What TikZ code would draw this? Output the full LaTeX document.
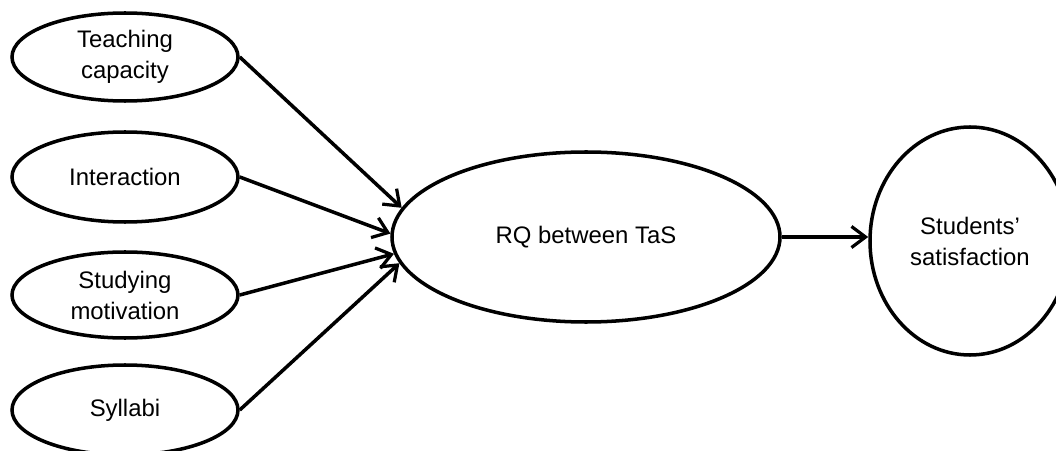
\documentclass[tikz,border=0pt]{standalone}
\usepackage{fontspec}
\setmainfont{Liberation Sans}
\usepackage{tikz}
\usetikzlibrary{shapes.geometric, positioning, arrows.meta}

\begin{document}
\begin{tikzpicture}[
          fac/.style={ellipse, draw, line width=2.5pt, inner sep=0pt,
                      minimum width=5.65cm, minimum height=2.2cm, align=center,
                      font=\fontsize{17}{22}\selectfont},
          arr/.style={-{Straight Barb[length=10pt, width=15pt, line width=2.3pt]},
                      line width=2.5pt}
        ]
        \useasboundingbox (0,0) rectangle (26.4,11.25);

        % Factors
        \node[fac] (teach) at (3.125, 9.825) {Teaching\\capacity};
        \node[fac, minimum height=2.25cm] (inter) at (3.125, 6.825) {Interaction};
        \node[fac, minimum height=2.15cm] (motiv) at (3.125, 3.875) {Studying\\motivation};
        \node[fac, minimum height=2.25cm] (syll)  at (3.125, 1.0)   {Syllabi};

        % Relationship quality
        \node[fac, minimum width=9.7cm, minimum height=4.25cm]
              (rq) at (14.65, 5.325) {RQ between TaS};

        % Outcome
        \node[fac, minimum width=5.0cm, minimum height=5.7cm]
              (sat) at (24.25, 5.225) {Students’\\satisfaction};

        \draw[arr] (teach.east) -- (rq.171);
        \draw[arr] (inter.east) -- (rq.179);
        \draw[arr] (motiv.east) -- (rq.185);
        \draw[arr] (syll.east)  -- (rq.188);
        \draw[arr] (rq.east)    -- (rq.east -| sat.west);
      \end{tikzpicture}
\end{document}
